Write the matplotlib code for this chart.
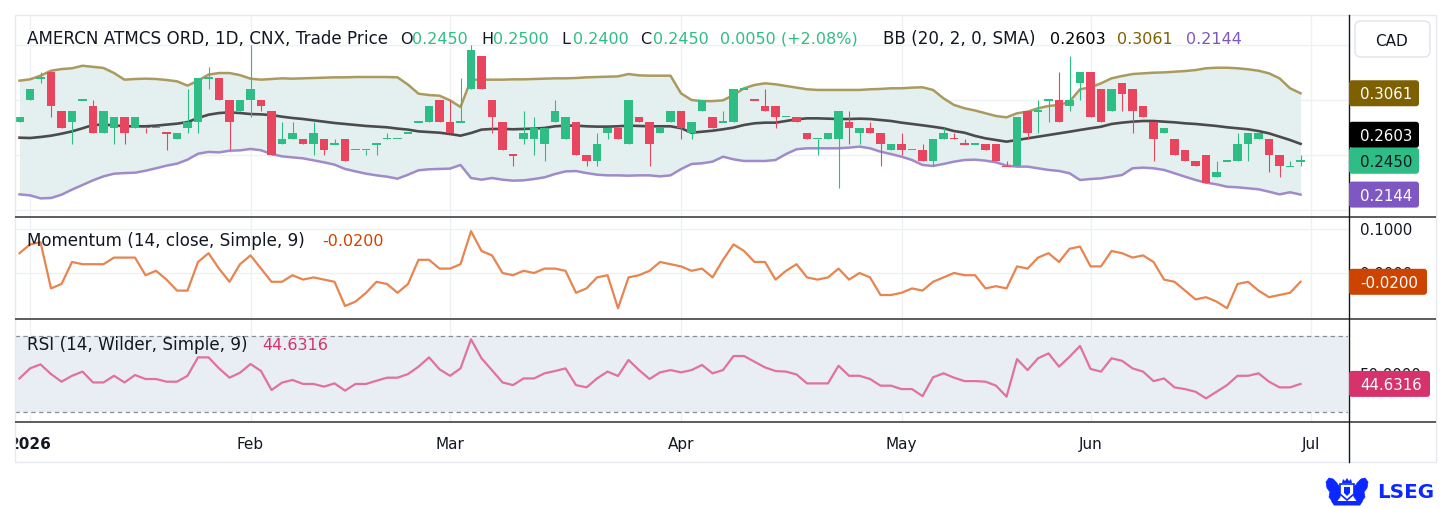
import numpy as np
import matplotlib
matplotlib.use("Agg")
import matplotlib.pyplot as plt
from matplotlib.patches import FancyBboxPatch, Rectangle, Polygon

W, H = 1452, 508

# ---- values, one entry per session (index 0 = first session of 2026) ----
first_bar = -1
opens = [0.28, 0.30, 0.32, 0.325, 0.29, 0.28, 0.30, 0.295, 0.27, 0.275,
         0.285, 0.275, 0.275, 0.275, 0.27, 0.265, 0.275, 0.28, 0.32, 0.32,
         0.30, 0.29, 0.30, 0.30, 0.29, 0.26, 0.265, 0.265, 0.26, 0.265,
         0.26, 0.265, 0.255, 0.255, 0.26, 0.265, 0.265, 0.27, 0.28, 0.28,
         0.30, 0.28, 0.28, 0.31, 0.34, 0.30, 0.28, 0.25, 0.265, 0.265,
         0.26, 0.28, 0.265, 0.28, 0.25, 0.245, 0.27, 0.275, 0.26, 0.285,
         0.28, 0.27, 0.28, 0.29, 0.27, 0.29, 0.285, 0.28, 0.28, 0.31,
         0.30, 0.295, 0.295, 0.285, 0.285, 0.27, 0.265, 0.265, 0.265, 0.28,
         0.27, 0.275, 0.27, 0.255, 0.26, 0.255, 0.255, 0.245, 0.265, 0.265,
         0.26, 0.26, 0.26, 0.26, 0.24, 0.24, 0.29, 0.29, 0.30, 0.30,
         0.295, 0.315, 0.325, 0.31, 0.29, 0.315, 0.31, 0.295, 0.28, 0.27,
         0.265, 0.255, 0.245, 0.25, 0.23, 0.245, 0.245, 0.26, 0.265, 0.265,
         0.25, 0.24, 0.245]
highs = [0.285, 0.31, 0.325, 0.325, 0.29, 0.29, 0.30, 0.30, 0.29, 0.285,
         0.285, 0.285, 0.275, 0.275, 0.27, 0.27, 0.31, 0.32, 0.33, 0.32,
         0.30, 0.30, 0.35, 0.30, 0.29, 0.28, 0.28, 0.265, 0.28, 0.265,
         0.265, 0.265, 0.255, 0.255, 0.26, 0.27, 0.265, 0.27, 0.28, 0.295,
         0.30, 0.30, 0.32, 0.35, 0.34, 0.30, 0.28, 0.25, 0.29, 0.285,
         0.275, 0.30, 0.285, 0.28, 0.25, 0.27, 0.275, 0.275, 0.30, 0.285,
         0.28, 0.275, 0.29, 0.29, 0.28, 0.30, 0.285, 0.29, 0.31, 0.31,
         0.30, 0.31, 0.295, 0.285, 0.285, 0.27, 0.265, 0.27, 0.29, 0.29,
         0.275, 0.28, 0.27, 0.26, 0.27, 0.255, 0.26, 0.265, 0.275, 0.27,
         0.265, 0.26, 0.26, 0.26, 0.245, 0.285, 0.29, 0.30, 0.30, 0.325,
         0.34, 0.325, 0.325, 0.31, 0.31, 0.315, 0.31, 0.295, 0.28, 0.275,
         0.265, 0.255, 0.245, 0.25, 0.245, 0.245, 0.27, 0.27, 0.27, 0.265,
         0.25, 0.245, 0.25]
lows = [0.28, 0.30, 0.315, 0.285, 0.275, 0.26, 0.30, 0.27, 0.27, 0.26,
        0.26, 0.275, 0.27, 0.275, 0.255, 0.265, 0.27, 0.27, 0.31, 0.30,
        0.255, 0.29, 0.285, 0.29, 0.25, 0.26, 0.265, 0.26, 0.25, 0.25,
        0.26, 0.245, 0.255, 0.25, 0.25, 0.265, 0.265, 0.27, 0.28, 0.28,
        0.28, 0.27, 0.28, 0.31, 0.31, 0.27, 0.255, 0.24, 0.26, 0.25,
        0.245, 0.28, 0.265, 0.25, 0.24, 0.24, 0.265, 0.265, 0.26, 0.28,
        0.24, 0.27, 0.28, 0.265, 0.265, 0.29, 0.275, 0.28, 0.28, 0.31,
        0.30, 0.29, 0.275, 0.285, 0.28, 0.265, 0.25, 0.265, 0.22, 0.26,
        0.26, 0.27, 0.24, 0.255, 0.25, 0.255, 0.245, 0.24, 0.265, 0.265,
        0.26, 0.26, 0.255, 0.245, 0.24, 0.24, 0.265, 0.27, 0.28, 0.28,
        0.29, 0.30, 0.285, 0.28, 0.29, 0.29, 0.27, 0.285, 0.245, 0.27,
        0.25, 0.245, 0.24, 0.225, 0.23, 0.245, 0.245, 0.245, 0.265, 0.235,
        0.23, 0.24, 0.24]
closes = [0.285, 0.31, 0.32, 0.295, 0.275, 0.29, 0.30, 0.27, 0.29, 0.285,
          0.27, 0.285, 0.275, 0.275, 0.27, 0.27, 0.28, 0.32, 0.32, 0.30,
          0.28, 0.30, 0.31, 0.295, 0.25, 0.265, 0.27, 0.26, 0.27, 0.255,
          0.26, 0.245, 0.255, 0.255, 0.26, 0.265, 0.265, 0.27, 0.28, 0.295,
          0.28, 0.27, 0.28, 0.345, 0.31, 0.285, 0.255, 0.25, 0.27, 0.275,
          0.275, 0.29, 0.285, 0.25, 0.245, 0.26, 0.275, 0.265, 0.30, 0.28,
          0.26, 0.275, 0.29, 0.275, 0.28, 0.30, 0.275, 0.28, 0.31, 0.31,
          0.30, 0.29, 0.285, 0.285, 0.28, 0.265, 0.265, 0.27, 0.29, 0.275,
          0.275, 0.27, 0.26, 0.26, 0.255, 0.255, 0.245, 0.265, 0.27, 0.265,
          0.26, 0.26, 0.255, 0.245, 0.24, 0.285, 0.27, 0.29, 0.30, 0.28,
          0.30, 0.325, 0.285, 0.28, 0.31, 0.305, 0.29, 0.285, 0.265, 0.275,
          0.25, 0.245, 0.24, 0.225, 0.235, 0.245, 0.26, 0.27, 0.27, 0.25,
          0.24, 0.24, 0.245]

bb_upper = [0.3175, 0.3187, 0.3220, 0.3265, 0.3280, 0.3287, 0.3310, 0.3300, 0.3290, 0.3244,
            0.3184, 0.3190, 0.3193, 0.3190, 0.3181, 0.3169, 0.3130, 0.3175, 0.3230, 0.3244,
            0.3244, 0.3225, 0.3193, 0.3184, 0.3190, 0.3196, 0.3193, 0.3196, 0.3199, 0.3202,
            0.3205, 0.3205, 0.3208, 0.3208, 0.3208, 0.3208, 0.3205, 0.3139, 0.3057, 0.3045,
            0.3039, 0.2997, 0.2937, 0.3184, 0.3184, 0.3184, 0.3184, 0.3187, 0.3187, 0.3190,
            0.3193, 0.3196, 0.3196, 0.3199, 0.3205, 0.3208, 0.3211, 0.3214, 0.3235, 0.3223,
            0.3220, 0.3220, 0.3220, 0.3060, 0.3000, 0.2990, 0.2990, 0.2997, 0.3045, 0.3106,
            0.3136, 0.3151, 0.3142, 0.3127, 0.3112, 0.3097, 0.3091, 0.3091, 0.3091, 0.3091,
            0.3091, 0.3097, 0.3100, 0.3106, 0.3106, 0.3112, 0.3115, 0.3091, 0.3015, 0.2955,
            0.2925, 0.2905, 0.2880, 0.2855, 0.2843, 0.2880, 0.2894, 0.2925, 0.2946, 0.2955,
            0.2985, 0.3097, 0.3115, 0.3151, 0.3196, 0.3217, 0.3235, 0.3241, 0.3247, 0.3250,
            0.3256, 0.3262, 0.3271, 0.3287, 0.3292, 0.3292, 0.3287, 0.3278, 0.3265, 0.3241,
            0.3196, 0.3106, 0.3061]
bb_mid = [0.2659, 0.2656, 0.2665, 0.2677, 0.2695, 0.2716, 0.2744, 0.2774, 0.2777, 0.2771,
          0.2762, 0.2762, 0.2762, 0.2768, 0.2777, 0.2786, 0.2800, 0.2837, 0.2867, 0.2882,
          0.2888, 0.2882, 0.2873, 0.2870, 0.2864, 0.2849, 0.2837, 0.2828, 0.2816, 0.2804,
          0.2792, 0.2783, 0.2774, 0.2765, 0.2759, 0.2753, 0.2741, 0.2732, 0.2716, 0.2710,
          0.2704, 0.2692, 0.2677, 0.2701, 0.2732, 0.2738, 0.2738, 0.2735, 0.2738, 0.2741,
          0.2747, 0.2762, 0.2768, 0.2768, 0.2762, 0.2759, 0.2759, 0.2762, 0.2768, 0.2765,
          0.2762, 0.2762, 0.2762, 0.2745, 0.2704, 0.2713, 0.2722, 0.2735, 0.2750, 0.2774,
          0.2789, 0.2795, 0.2795, 0.2810, 0.2825, 0.2834, 0.2834, 0.2831, 0.2828, 0.2828,
          0.2831, 0.2828, 0.2819, 0.2810, 0.2795, 0.2783, 0.2771, 0.2758, 0.2744, 0.2719,
          0.2704, 0.2675, 0.2653, 0.2638, 0.2623, 0.2638, 0.2653, 0.2668, 0.2683, 0.2698,
          0.2713, 0.2729, 0.2744, 0.2758, 0.2783, 0.2795, 0.2804, 0.2810, 0.2810, 0.2804,
          0.2798, 0.2789, 0.2783, 0.2774, 0.2765, 0.2753, 0.2744, 0.2735, 0.2719, 0.2698,
          0.2668, 0.2638, 0.2603]
bb_lower = [0.2146, 0.2137, 0.2110, 0.2113, 0.2143, 0.2189, 0.2231, 0.2273, 0.2309, 0.2333,
            0.2339, 0.2342, 0.2360, 0.2382, 0.2406, 0.2424, 0.2460, 0.2514, 0.2530, 0.2526,
            0.2541, 0.2544, 0.2557, 0.2545, 0.2511, 0.2490, 0.2481, 0.2472, 0.2454, 0.2436,
            0.2415, 0.2376, 0.2354, 0.2333, 0.2318, 0.2306, 0.2288, 0.2324, 0.2364, 0.2373,
            0.2376, 0.2379, 0.2412, 0.2294, 0.2279, 0.2294, 0.2279, 0.2270, 0.2273, 0.2285,
            0.2300, 0.2330, 0.2354, 0.2357, 0.2339, 0.2324, 0.2318, 0.2318, 0.2315, 0.2318,
            0.2318, 0.2309, 0.2318, 0.2375, 0.2421, 0.2427, 0.2442, 0.2487, 0.2463, 0.2448,
            0.2448, 0.2448, 0.2457, 0.2511, 0.2554, 0.2563, 0.2563, 0.2563, 0.2563, 0.2569,
            0.2578, 0.2563, 0.2532, 0.2511, 0.2487, 0.2457, 0.2412, 0.2403, 0.2421, 0.2442,
            0.2457, 0.2460, 0.2451, 0.2436, 0.2406, 0.2397, 0.2397, 0.2382, 0.2367, 0.2358,
            0.2337, 0.2276, 0.2285, 0.2291, 0.2306, 0.2321, 0.2382, 0.2388, 0.2382, 0.2367,
            0.2337, 0.2306, 0.2276, 0.2252, 0.2237, 0.2215, 0.2210, 0.2201, 0.2192, 0.2170,
            0.2146, 0.2165, 0.2144]

momentum = [0.045, 0.065, 0.07, -0.035, -0.025, 0.025, 0.02, 0.02, 0.02, 0.035,
            0.035, 0.035, -0.005, 0.005, -0.015, -0.04, -0.04, 0.025, 0.045, 0.01,
            -0.02, 0.02, 0.04, 0.01, -0.02, -0.02, -0.005, -0.015, -0.01, -0.015,
            -0.02, -0.075, -0.065, -0.045, -0.02, -0.025, -0.045, -0.025, 0.03, 0.03,
            0.01, 0.01, 0.02, 0.095, 0.05, 0.04, 0.0, -0.005, 0.005, 0.0,
            0.01, 0.01, 0.005, -0.045, -0.035, -0.01, -0.005, -0.08, -0.01, -0.005,
            0.005, 0.025, 0.02, 0.015, 0.005, 0.01, -0.01, 0.03, 0.065, 0.05,
            0.025, 0.025, -0.015, 0.005, 0.02, -0.01, -0.015, -0.01, 0.01, -0.015,
            0.0, -0.01, -0.05, -0.05, -0.045, -0.035, -0.04, -0.02, -0.01, 0.0,
            -0.005, -0.005, -0.035, -0.03, -0.035, 0.015, 0.01, 0.035, 0.045, 0.025,
            0.055, 0.06, 0.015, 0.015, 0.05, 0.045, 0.035, 0.04, 0.025, -0.015,
            -0.02, -0.04, -0.06, -0.055, -0.065, -0.08, -0.025, -0.02, -0.04, -0.055,
            -0.05, -0.045, -0.02]

rsi = [47.5, 52.8, 54.9, 49.8, 45.8, 48.9, 51.1, 45.4, 45.4, 48.9,
       45.4, 49.3, 47.2, 47.2, 45.8, 45.8, 48.9, 58.6, 58.6, 52.8,
       47.9, 50.5, 55.1, 51.4, 41.4, 45.3, 46.7, 44.6, 44.6, 43.2,
       44.9, 41.1, 44.6, 44.6, 46.3, 47.9, 47.9, 49.8, 53.7, 58.6,
       52.3, 48.9, 52.8, 68.1, 58.1, 51.8, 45.4, 44.0, 47.5, 47.5,
       50.2, 51.4, 52.8, 44.0, 42.8, 47.5, 51.1, 48.8, 57.2, 51.9,
       47.2, 50.7, 51.9, 50.7, 51.9, 54.6, 50.2, 51.9, 59.3, 59.3,
       56.3, 53.3, 51.4, 51.1, 49.6, 44.9, 44.9, 44.9, 54.2, 48.9,
       48.9, 47.2, 43.7, 43.7, 41.9, 41.9, 38.2, 48.1, 50.2, 47.9,
       46.1, 46.1, 45.8, 43.7, 37.9, 57.7, 51.9, 58.1, 60.7, 53.7,
       58.9, 64.6, 52.5, 51.1, 58.1, 56.8, 52.8, 51.1, 46.1, 47.5,
       42.8, 41.9, 40.5, 37.0, 40.5, 44.0, 48.9, 48.9, 50.2, 45.8,
       42.8, 42.8, 44.6316]

month_pos = [0, 21, 40, 62, 83, 101, 122]
month_labels = ["2026", "Feb", "Mar", "Apr", "May", "Jun", "Jul"]
price_grid = [0.20, 0.25, 0.30, 0.35]
mom_grid = [0.0, 0.1]

# ---- styles ----
UP = "#2ebd85"
DOWN = "#e8455f"
TXT = "#131722"
GRID = "#eef1f4"
BB_UP, BB_UP_TAG = "#ab9a5e", "#7f6000"
BB_MID = "#4b4b4b"
BB_LO, BB_LO_TAG = "#9f8bc9", "#7e57c2"
BB_FILL = "#e4f0ef"
MOM_LINE, MOM_TAG = "#e8844f", "#cc4400"
RSI_LINE, RSI_TAG = "#e0729c", "#d6336c"
RSI_BAND = "#e8eef4"
LOGO = "#0a28ff"

x = np.arange(len(closes)) + first_bar
o = np.array(opens)
c = np.array(closes)

cols = []
for k in range(len(c)):
    if c[k] > o[k]:
        cols.append(UP)
    elif c[k] < o[k]:
        cols.append(DOWN)
    else:
        cols.append(UP if k == 0 or c[k] >= c[k - 1] else DOWN)

fig = plt.figure(figsize=(W / 100, H / 100), dpi=100)
fig.patch.set_facecolor("white")

LEFT, RIGHT = 15, 1348
XLIM = (-1.43, 125.52)


def panel(top, bottom, ylim):
    ax = fig.add_axes([LEFT / W, 1 - bottom / H, (RIGHT - LEFT) / W, (bottom - top) / H])
    ax.set_xlim(XLIM)
    ax.set_ylim(ylim)
    ax.set_xticks([])
    ax.set_yticks([])
    for s in ax.spines.values():
        s.set_visible(False)
    for p in month_pos:
        ax.axvline(p, color=GRID, lw=1, zorder=0)
    return ax


ax_p = panel(15, 216.5, (0.19457, 0.37692))
ax_m = panel(217.5, 318.5, (-0.1034, 0.1261))
ax_r = panel(319.5, 421.5, (24.84, 78.53))

# price panel: bollinger band + candles
for g in price_grid:
    ax_p.axhline(g, color=GRID, lw=1, zorder=0)
ax_p.fill_between(x, bb_lower, bb_upper, color=BB_FILL, lw=0, zorder=1)
ax_p.plot(x, bb_upper, color=BB_UP, lw=1.8, zorder=2)
ax_p.plot(x, bb_lower, color=BB_LO, lw=1.8, zorder=2)
ax_p.plot(x, bb_mid, color=BB_MID, lw=1.9, zorder=2)

body_lo = np.minimum(o, c)
body_h = np.abs(c - o)
flat = body_h < 1e-9
body_lo[flat] -= 0.0007
body_h[flat] = 0.0014
ax_p.vlines(x, lows, highs, colors=cols, lw=0.8, zorder=3)
ax_p.bar(x, body_h, 0.78, bottom=body_lo, color=cols, lw=0, zorder=4)

# momentum
for g in mom_grid:
    ax_m.axhline(g, color=GRID, lw=1, zorder=0)
ax_m.plot(x, momentum, color=MOM_LINE, lw=1.6, zorder=2)

# rsi
ax_r.axhspan(30, 70, color=RSI_BAND, lw=0, zorder=0)
for lvl in (30, 70):
    ax_r.axhline(lvl, color="#8a8d94", lw=0.9, ls=(0, (3.5, 2.8)), zorder=1)
ax_r.plot(x, rsi, color=RSI_LINE, lw=1.6, zorder=2)

# time axis
ax_t = fig.add_axes([LEFT / W, 1 - 462 / H, (RIGHT - LEFT) / W, 40 / H])
ax_t.set_xlim(XLIM)
ax_t.set_ylim(0, 1)
ax_t.axis("off")
for p, lab in zip(month_pos, month_labels):
    ax_t.text(p, 13 / 40, lab, ha="center", va="baseline", fontsize=11, color=TXT,
              fontweight="bold" if lab == "2026" else "normal", clip_on=True)

# overlay in pixel units for frame, legends, price tags and logo
ov = fig.add_axes([0, 0, 1, 1], zorder=10)
ov.set_xlim(0, W)
ov.set_ylim(H, 0)
ov.axis("off")
ov.patch.set_visible(False)


def py(ax, v):
    return H - ax.transData.transform((0, v))[1]


ov.add_patch(Rectangle((15, 15), 1421, 447, fill=False, ec="#e6e9ed", lw=1))
for yy in (216.5, 318.5, 421.5):
    ov.plot([15, 1436], [yy, yy], color="#5c5c5c", lw=1.4, solid_capstyle="butt")
ov.plot([1348.5, 1348.5], [15, 462], color=TXT, lw=1)

FS_WORD = 12.1
FS_NUM = 11.5
last_o, last_h, last_l, last_c = opens[-1], highs[-1], lows[-1], closes[-1]
chg = last_c - closes[-2]
pct = chg / closes[-2] * 100
head = [
    (27, "AMERCN ATMCS ORD, 1D, CNX, Trade Price", TXT, FS_WORD),
    (400, "O", TXT, FS_NUM), (412, f"{last_o:.4f}", UP, FS_NUM),
    (481, "H", TXT, FS_NUM), (493, f"{last_h:.4f}", UP, FS_NUM),
    (561, "L", TXT, FS_NUM), (573, f"{last_l:.4f}", UP, FS_NUM),
    (640, "C", TXT, FS_NUM), (653, f"{last_c:.4f}", UP, FS_NUM),
    (720, f"{chg:.4f} ({pct:+.2f}%)", UP, FS_NUM),
    (883, "BB (20, 2, 0, SMA)", TXT, FS_WORD),
    (1050, f"{bb_mid[-1]:.4f}", "#000000", FS_NUM),
    (1117, f"{bb_upper[-1]:.4f}", BB_UP_TAG, FS_NUM),
    (1186, f"{bb_lower[-1]:.4f}", BB_LO_TAG, FS_NUM),
]
for hx, s, col, fs in head:
    ov.text(hx, 43.5, s, color=col, fontsize=fs, va="baseline", ha="left")

ov.text(27, 246.5, "Momentum (14, close, Simple, 9)", color=TXT, fontsize=FS_WORD, va="baseline")
ov.text(322, 246.5, f"{momentum[-1]:.4f}", color=MOM_TAG, fontsize=FS_NUM, va="baseline")
ov.text(27, 350, "RSI (14, Wilder, Simple, 9)", color=TXT, fontsize=FS_WORD, va="baseline")
ov.text(262, 350, f"{rsi[-1]:.4f}", color=RSI_TAG, fontsize=FS_NUM, va="baseline")


def tag(yc, text, fc, tc, width):
    ov.add_patch(FancyBboxPatch((1349, yc - 13), width, 26,
                                boxstyle="round,pad=0,rounding_size=3",
                                fc=fc, ec="none", zorder=5))
    ov.text(1360, yc, text, color=tc, fontsize=10.8, va="center_baseline", ha="left", zorder=6)
    return yc - 13


def scale_label(yc, text, tag_top):
    # scale value that sits mostly under a tag: only the part above the tag shows
    t = ov.text(1360, yc, text, color=TXT, fontsize=10.8, va="center_baseline", zorder=4)
    t.set_clip_path(Rectangle((1350, tag_top - 20), 85, 20, transform=ov.transData))


TAG_H = 26
y_close = py(ax_p, last_c)
y_mid = min(py(ax_p, bb_mid[-1]), y_close - TAG_H)
y_low = max(py(ax_p, bb_lower[-1]), y_close + TAG_H)
y_up = min(py(ax_p, bb_upper[-1]), y_mid - TAG_H)
tag(y_up, f"{bb_upper[-1]:.4f}", BB_UP_TAG, "white", 70)
tag(y_mid, f"{bb_mid[-1]:.4f}", "#000000", "white", 70)
tag(y_close, f"{last_c:.4f}", UP, TXT, 70)
tag(y_low, f"{bb_lower[-1]:.4f}", BB_LO_TAG, "white", 70)
mom_top = tag(py(ax_m, momentum[-1]), f"{momentum[-1]:.4f}", MOM_TAG, "white", 78)
rsi_top = tag(py(ax_r, rsi[-1]), f"{rsi[-1]:.4f}", RSI_TAG, "white", 81)

# right scale labels
ov.text(1360, py(ax_m, 0.1), "0.1000", color=TXT, fontsize=10.8, va="center_baseline")
scale_label(py(ax_m, 0.0), "0.0000", mom_top)
scale_label(py(ax_r, 50), "50.0000", rsi_top)

# currency button
ov.add_patch(FancyBboxPatch((1355, 21), 75, 36, boxstyle="round,pad=0,rounding_size=6",
                            fc="white", ec="#e0e3eb", lw=1))
ov.text(1392, 39.5, "CAD", color=TXT, fontsize=11, ha="center", va="center_baseline")

# LSEG logo: rough crest + wordmark
lion = [(1326, 482), (1329, 478), (1333, 479), (1336, 482), (1339, 486), (1341, 491),
        (1340, 497), (1337, 501), (1332, 501), (1329, 497), (1330, 492), (1327, 488)]
ov.add_patch(Polygon(lion, closed=True, fc=LOGO, ec=LOGO, lw=0.5))
ov.add_patch(Polygon([(2 * 1347 - lx, ly) for lx, ly in lion], closed=True,
                     fc=LOGO, ec=LOGO, lw=0.5))
ov.add_patch(Polygon([(1340, 484), (1354, 484), (1354, 494), (1347, 500), (1340, 494)],
                     closed=True, fc="white", ec=LOGO, lw=1.2))
ov.add_patch(Polygon([(1344, 487), (1350, 487), (1350, 493), (1347, 496), (1344, 493)],
                     closed=True, fc=LOGO, ec="none"))
ov.add_patch(Polygon([(1342, 483), (1343, 479), (1345, 481), (1347, 478), (1349, 481),
                      (1351, 479), (1352, 483)], closed=True, fc=LOGO, ec="none"))
ov.add_patch(Polygon([(1331, 501), (1363, 501), (1360, 505.5), (1334, 505.5)],
                     closed=True, fc=LOGO, ec="none"))
ov.text(1377, 498.5, "LSEG", color=LOGO, fontsize=14.3, fontweight="bold",
        ha="left", va="baseline")

fig.savefig("out.png", dpi=100, facecolor="white")
